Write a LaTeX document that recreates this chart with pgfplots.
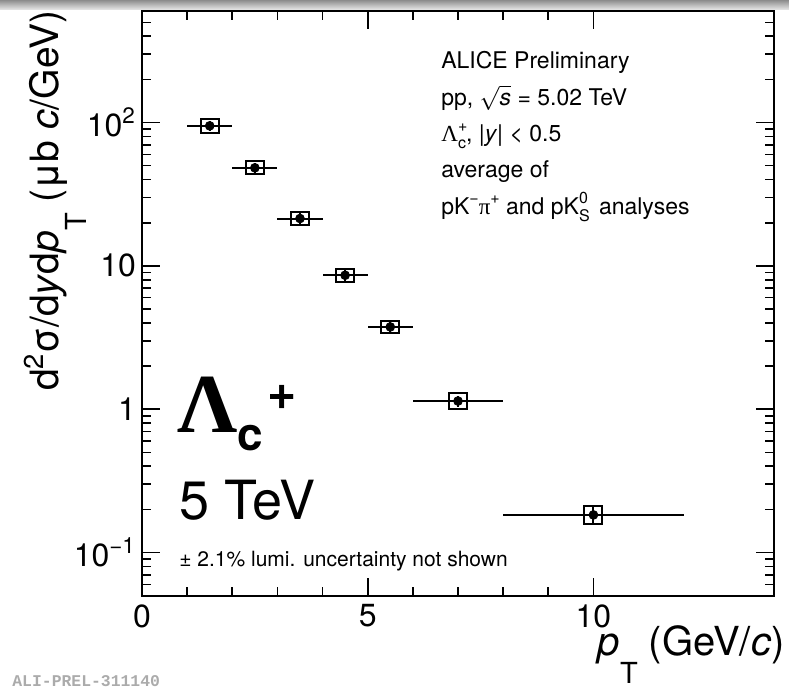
\documentclass[border=0pt]{standalone}
\usepackage{pgfplots}
\pgfplotsset{compat=1.18}
\usepackage{fontspec}
\setmainfont{TeX Gyre Heros}
\newfontfamily\symfont{Liberation Serif}
\newfontfamily\monofont{Liberation Mono}
\newcommand\fs[1]{\fontsize{#1}{#1}\selectfont}
\newcommand\lowT[1]{\raisebox{-14pt}{\fs{14.5}#1}}
% stacked super- and subscript for the 11.5pt annotation text
\newcommand\supsub[2]{\rlap{\raisebox{5.2pt}{\fs{8}#1}}\raisebox{-3.6pt}{\fs{8}#2}}
\newcommand\sups[1]{\raisebox{5.2pt}{\fs{8}#1}}

% Lambda_c+ cross section in pp at 5.02 TeV
% columns: pT, value, half bin width, stat. error, syst. low, syst. high
\pgfplotstableread{
x    y      ex   ey     slo    shi
1.5  94.8   0.5  8.0    84.5   106.4
2.5  48.3   0.5  4.0    43.4   53.8
3.5  21.4   0.5  1.8    19.2   23.9
4.5  8.6    0.5  0.7    7.77   9.52
5.5  3.75   0.5  0.3    3.40   4.14
7.0  1.14   1.0  0.10   1.01   1.29
10.0 0.183  2.0  0.025  0.159  0.210
}\lcdata

\begin{document}
\begin{tikzpicture}
\begin{axis}[
  name=ax,
  scale only axis, width=316pt, height=292.35pt,
  xmin=0, xmax=14,
  ymode=log, ymin=0.05, ymax=600,
  xtick={0,5,10}, xticklabels={0,5,10},
  minor x tick num=4,
  ytick={0.1,1,10,100},
  yticklabels={10\textsuperscript{−1},1,10,10\textsuperscript{2}},
  minor ytick={0.06,0.07,0.08,0.09,0.2,0.3,0.4,0.5,0.6,0.7,0.8,0.9,
    2,3,4,5,6,7,8,9,20,30,40,50,60,70,80,90,200,300,400,500,600},
  tick align=inside,
  major tick length=9pt, minor tick length=4.5pt,
  tick style={black, line width=0.8pt},
  axis line style={black, line width=0.9pt},
  ticklabel style={font=\fs{16}},
  xticklabel style={yshift=-1pt},
  yticklabel style={xshift=0.5pt},
  clip=false,
]
% systematic uncertainty boxes
\pgfplotsforeachungrouped \i in {0,...,6}{%
  \pgfplotstablegetelem{\i}{x}\of\lcdata \let\bx=\pgfplotsretval
  \pgfplotstablegetelem{\i}{slo}\of\lcdata \let\blo=\pgfplotsretval
  \pgfplotstablegetelem{\i}{shi}\of\lcdata \let\bhi=\pgfplotsretval
  \edef\drawbox{\noexpand\addplot[black, line width=1pt, line cap=rect, mark=none]
    coordinates {(\bx-0.2,\blo) (\bx+0.2,\blo) (\bx+0.2,\bhi) (\bx-0.2,\bhi) (\bx-0.2,\blo)};}
  \drawbox
}
% central values with bin widths and statistical errors
\addplot[only marks, mark=*, mark size=2.2pt, black,
  error bars/.cd, x dir=both, x explicit, y dir=both, y explicit,
  error mark=none, error bar style={line width=1pt}]
  table[x=x, y=y, x error=ex, y error=ey] {\lcdata};

\node[anchor=base west, inner sep=0, font=\fs{11.5}] at (rel axis cs:0.473,0.902) {ALICE Preliminary};
\node[anchor=base west, inner sep=0, font=\fs{11.5}] at (rel axis cs:0.473,0.839) {pp, \(\sqrt{\hbox{\itshape s}}\) = 5.02 TeV};
\node[anchor=base west, inner sep=0, font=\fs{11.5}] at (rel axis cs:0.473,0.7766) {{\symfont Λ}\supsub{+}{c}, |\textit{y}| < 0.5};
\node[anchor=base west, inner sep=0, font=\fs{11.5}] at (rel axis cs:0.473,0.715) {average of};
\node[anchor=base west, inner sep=0, font=\fs{11.5}] at (rel axis cs:0.473,0.6525) {pK\sups{−}{\symfont π}\sups{+} and pK\supsub{0}{S}\hspace{1.5pt} analyses};

\node[anchor=base west, inner sep=0] at (rel axis cs:0.0554,0.2783)
  {{\symfont\bfseries\fs{42}Λ}\raisebox{-9pt}{\bfseries\fs{23}c}\hspace{2pt}\raisebox{11.7pt}{\bfseries\fs{25}+}};
\node[anchor=base west, inner sep=0, font=\fs{27}] at (rel axis cs:0.0585,0.1295) {5 TeV};
\node[anchor=base west, inner sep=0, font=\fs{10.5}] at (rel axis cs:0.0585,0.0491) {± 2.1\% lumi. uncertainty not shown};
\end{axis}

% axis titles
\node[anchor=base east, inner sep=0, font=\fs{20}] at ([xshift=5.5pt, yshift=-29.8pt]ax.south east)
  {\textit{p}\lowT{T} (GeV/\textit{c})};
\node[rotate=90, anchor=base east, inner sep=0, font=\fs{19.5}] at ([xshift=-41.75pt, yshift=0.5pt]ax.north west)
  {d\textsuperscript{2}σ/d\textit{y}d\textit{p}\lowT{T} (μb \textit{c}/GeV)};
\node[anchor=base west, inner sep=0, font=\monofont\bfseries\fs{8.2}, text=black!33]
  at ([xshift=-65pt, yshift=-45.6pt]ax.south west) {ALI-PREL-311140};

% window strip along the top edge
\shade[top color=black!45, bottom color=black!8]
  ([xshift=-71pt, yshift=0.5pt]ax.north west) rectangle ([xshift=7.5pt, yshift=5.5pt]ax.north east);

\pgfresetboundingbox
\useasboundingbox ([xshift=-71pt, yshift=-48.65pt]ax.south west) rectangle ([xshift=7.5pt, yshift=5.5pt]ax.north east);
\end{tikzpicture}
\end{document}
